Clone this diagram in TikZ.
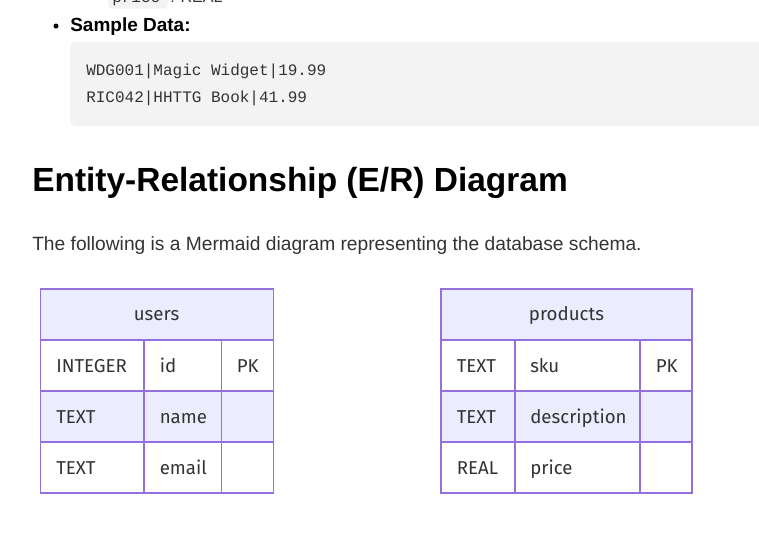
\documentclass[tikz,border=0pt]{standalone}
\usepackage{fontspec}
\setmainfont{Liberation Sans}
\setmonofont{Liberation Mono}
\newfontfamily\erfont{Fira Sans}
\usetikzlibrary{positioning}

\definecolor{erline}{HTML}{9370DB}
\definecolor{erfill}{HTML}{ECECFF}
\definecolor{ertext}{HTML}{333333}
\definecolor{codebg}{HTML}{F3F3F3}
\definecolor{bodytext}{HTML}{333333}

\begin{document}
\begin{tikzpicture}[x=0.75pt, y=-0.75pt,
	page text/.style={inner sep=0pt, anchor=base west},
	cell text/.style={inner sep=0pt, text=ertext, font=\erfont\fontsize{14pt}{16pt}\selectfont},
	grid line/.style={draw=erline, line width=1pt}]

\path [use as bounding box] (0,0) rectangle (759,547);

% PAGE TEXT
\fill [codebg, rounded corners=3pt] (108,-12) rectangle (168,8.5);
\node [page text, font=\ttfamily\fontsize{12pt}{14pt}\selectfont, text=bodytext] (price) at (112,2) {price};
\node [page text, font=\fontsize{12pt}{14pt}\selectfont, text=bodytext] (price-type) at (170,2) {: REAL};

\fill (56,26) circle (2.5);
\node [page text, font=\bfseries\fontsize{14.25pt}{17pt}\selectfont] (sample) at (70,31.5) {Sample Data:};

\fill [codebg, rounded corners=4pt] (70,42) rectangle (775,126);
\node [page text, font=\ttfamily\fontsize{12pt}{14pt}\selectfont, text=bodytext] (row-a) at (86,75) {WDG001|Magic Widget|19.99};
\node [page text, font=\ttfamily\fontsize{12pt}{14pt}\selectfont, text=bodytext] (row-b) at (86,102) {RIC042|HHTTG Book|41.99};

\node [page text, font=\bfseries\fontsize{25.1pt}{30pt}\selectfont] (heading) at (32,191) {Entity-Relationship (E/R) Diagram};
\node [page text, font=\fontsize{14.4pt}{17pt}\selectfont, text=bodytext] (intro) at (32,250) {The following is a Mermaid diagram representing the database schema.};

% USERS
\def\ux{40.5}
\def\uy{289}
\fill [erfill] (\ux,\uy) rectangle +(233,51);
\fill [erfill] (\ux,\uy) ++(0,102) rectangle +(233,51);
\draw [grid line] (\ux,\uy) rectangle +(233,204);
\foreach \y in {51,102,153}
	\draw [grid line] (\ux,\uy) ++(0,\y) -- +(233,0);
\foreach \x in {103.5,181}
	\draw [grid line] (\ux,\uy) ++(\x,51) -- +(0,153);

\node [cell text] (users) at (156.5,315.5) {users};
\foreach \t/\n [count=\i] in {INTEGER/id, TEXT/name, TEXT/email} {
	\node [cell text, anchor=base west] (users-type-\i) at (56,{321+51*\i}) {\t};
	\node [cell text, anchor=base west] (users-name-\i) at (159.5,{321+51*\i}) {\n};
}
\node [cell text, anchor=base west] (users-key) at (236.5,372) {PK};

% PRODUCTS
\def\px{441}
\def\py{289}
\fill [erfill] (\px,\py) rectangle +(251,51);
\fill [erfill] (\px,\py) ++(0,102) rectangle +(251,51);
\draw [grid line] (\px,\py) rectangle +(251,204);
\foreach \y in {51,102,153}
	\draw [grid line] (\px,\py) ++(0,\y) -- +(251,0);
\foreach \x in {74,199}
	\draw [grid line] (\px,\py) ++(\x,51) -- +(0,153);

\node [cell text] (products) at (566.5,315.5) {products};
\foreach \t/\n [count=\i] in {TEXT/sku, TEXT/description, REAL/price} {
	\node [cell text, anchor=base west] (products-type-\i) at (456.5,{321+51*\i}) {\t};
	\node [cell text, anchor=base west] (products-name-\i) at (530,{321+51*\i}) {\n};
}
\node [cell text, anchor=base west] (products-key) at (655.5,372) {PK};

\end{tikzpicture}
\end{document}
